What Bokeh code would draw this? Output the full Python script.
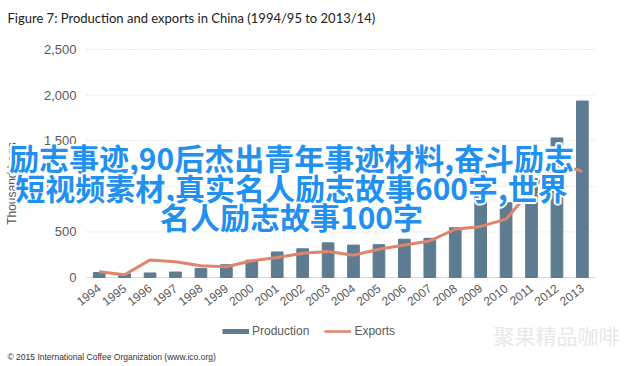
from bokeh.plotting import figure
from bokeh.models import (ColumnDataSource, Range1d, NumeralTickFormatter, FixedTicker,
                          BasicTickFormatter, Label, Legend, LegendItem)
from bokeh.embed import file_html
from bokeh.resources import INLINE

years = [1994, 1995, 1996, 1997, 1998, 1999, 2000, 2001, 2002, 2003,
         2004, 2005, 2006, 2007, 2008, 2009, 2010, 2011, 2012, 2013]
production = [55, 40, 50, 60, 100, 140, 190, 280, 315, 380,
              355, 360, 420, 430, 545, 1165, 820, 1085, 1530, 1935]
exports = [62, 30, 193, 172, 128, 117, 183, 219, 267, 284,
           245, 310, 357, 401, 529, 560, 640, 965, 1240, 1165]
y_ticks = [0, 500, 1000, 1500, 2000, 2500]

title_text = "Figure 7: Production and exports in China (1994/95 to 2013/14)"
footer_text = "\u00a9 2015 International Coffee Organization (www.ico.org)"
watermark_text = "聚果精品咖啡"
overlay_lines = ["励志事迹,90后杰出青年事迹材料,奋斗励志",
                 "短视频素材,真实名人励志故事600字,世界",
                 "名人励志故事100字"]

BAR = "#5E7C91"
LINE = "#E0846C"
GREY = "#595959"

W, H = 640, 366
# chart region in canvas pixels
PL, PR, PT, PB = 86, 594.6, 49, 277
x_lo, x_hi = years[0] - 0.5, years[-1] + 0.5
xs = (x_hi - x_lo) / (PR - PL)
ys_ = (y_ticks[-1] - y_ticks[0]) / (PB - PT)
x_range = Range1d(x_lo - PL * xs, x_hi + (W - PR) * xs)
y_range = Range1d(y_ticks[0] - (H - PB) * ys_, y_ticks[-1] + PT * ys_)

src = ColumnDataSource(dict(year=years, production=production, exports=exports))

p = figure(width=W, height=H, output_backend="svg", toolbar_location=None,
           x_range=x_range, y_range=y_range,
           min_border_left=0, min_border_right=0, min_border_top=0, min_border_bottom=0)
p.title.visible = False
p.outline_line_color = None
p.background_fill_color = "white"
p.xgrid.visible = False
p.ygrid.visible = False

# grid lines over chart width
grid_y = y_ticks[1:]
p.segment(x0=[x_lo] * len(grid_y), x1=[x_hi] * len(grid_y), y0=grid_y, y1=grid_y,
          line_color="#cfcfcf", line_width=1, line_dash="1 2")
p.segment(x0=[x_lo], x1=[x_hi], y0=[y_ticks[0]], y1=[y_ticks[0]],
          line_color="#d9d9d9", line_width=1)

p.vbar(x="year", top="production", width=0.46, color=BAR, source=src)
p.line(x="year", y="exports", line_color=LINE, line_width=3, source=src)

# axes (fixed inside the canvas)
p.xaxis.fixed_location = y_ticks[0]
p.yaxis.fixed_location = x_lo
p.xaxis.ticker = FixedTicker(ticks=years)
p.xaxis.formatter = BasicTickFormatter(use_scientific=False)
p.yaxis.ticker = FixedTicker(ticks=y_ticks)
p.yaxis.formatter = NumeralTickFormatter(format="0,0")
for ax in (p.xaxis, p.yaxis):
    ax.axis_line_color = None
    ax.major_tick_line_color = None
    ax.minor_tick_line_color = None
    ax.major_tick_out = 0
    ax.major_tick_in = 0
    ax.minor_tick_out = 0
    ax.minor_tick_in = 0
    ax.major_label_text_color = GREY
    ax.major_label_text_font = "Liberation Sans"
    ax.major_label_text_font_size = "12px"
p.yaxis.major_label_text_font_size = "13px"
p.yaxis.major_label_standoff = 10
p.yaxis.axis_label = "Thousand bags"
p.yaxis.axis_label_text_font = "Liberation Sans"
p.yaxis.axis_label_text_font_style = "normal"
p.yaxis.axis_label_text_font_size = "12px"
p.yaxis.axis_label_text_color = GREY
p.yaxis.axis_label_standoff = 22
p.xaxis.major_label_orientation = 0.65
p.xaxis.major_label_standoff = 9

# legend with proxy renderers (one point each, so nothing is drawn in the chart)
r_prod = p.line(x=years[:1], y=production[:1], line_color=BAR, line_width=5)
r_exp = p.line(x=years[:1], y=exports[:1], line_color=LINE, line_width=2.5)
legend = Legend(items=[LegendItem(label="Production", renderers=[r_prod]),
                       LegendItem(label="Exports", renderers=[r_exp])],
                orientation="horizontal", location=(222, H - 338),
                padding=0, margin=0, spacing=15, glyph_width=27, glyph_height=14,
                label_height=14, label_standoff=3, border_line_alpha=0,
                background_fill_alpha=0, label_text_font="Liberation Sans",
                label_text_font_size="12px", label_text_color=GREY)
p.add_layout(legend, "center")

def lab(x, y, text, **kw):
    p.add_layout(Label(x=x, y=H - y, x_units="screen", y_units="screen", text=text,
                       text_baseline="middle", **kw))

lab(7, 17, title_text, text_font="Lato", text_font_size="13px", text_color="#222222")
lab(7, 356, footer_text, text_font="Liberation Sans", text_font_size="8.5px", text_color="#333333")
lab(493, 334, watermark_text, text_font="Noto Sans CJK SC", text_font_size="21px",
    text_color="#e8e8e8")

line_y = [156, 186, 215]
offs = [(-2, 0), (2, 0), (0, -2), (0, 2), (-1.5, -1.5), (1.5, 1.5), (-1.5, 1.5), (1.5, -1.5)]
for line_text, yy in zip(overlay_lines, line_y):
    for dx, dy in offs:
        lab(291 + dx, yy + dy, line_text, text_font="Noto Sans CJK SC", text_font_style="bold",
            text_font_size="30px", text_color="white", text_align="center")
    lab(291, yy, line_text, text_font="Noto Sans CJK SC", text_font_style="bold",
        text_font_size="30px", text_color="#2190F0", text_align="center")

open("out.html", "w").write(file_html(p, INLINE))
